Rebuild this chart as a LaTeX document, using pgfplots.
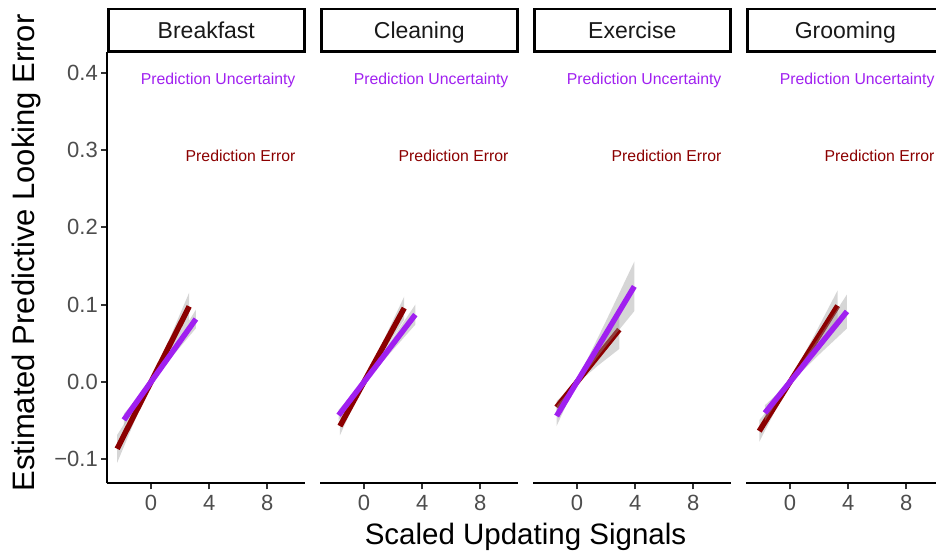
\documentclass[border=0pt]{standalone}
\usepackage{pgfplots}
\pgfplotsset{compat=1.18}
\usepackage{fontspec}
\setmainfont{Liberation Sans}
\definecolor{pu}{HTML}{A020F0}
\definecolor{dr}{HTML}{8B0000}
\definecolor{rib}{HTML}{999999}
\definecolor{tickc}{HTML}{333333}
\definecolor{tlab}{HTML}{4D4D4D}
\pgfplotsset{
 panel/.style={
  scale only axis, width=198bp, height=431.6bp,
  xmin=-3, xmax=10.61, ymin=-0.131, ymax=0.4273,
  axis x line*=bottom,
  xtick={0,4,8}, xticklabels={0,4,8},
  tick align=outside, major tick length=6bp,
  tick style={line width=2bp, color=tickc},
  axis line style={line width=2.2bp, black},
  ticklabel style={font=\fontsize{22bp}{26bp}\selectfont, text=tlab},
  xticklabel style={yshift=-2.5bp},
  clip=false,
  anchor=south west,
 },
 noy/.style={axis y line=none, ytick=\empty},
 rib/.style={fill=rib, fill opacity=0.4, draw=none, forget plot},
 redl/.style={dr, line width=5.5bp, forget plot},
 pul/.style={pu, line width=5.5bp, forget plot},
}
\newcommand{\strip}[1]{\node[draw=black, fill=white, line width=2.6bp, minimum width=196bp, minimum height=42.8bp, anchor=south, inner sep=0pt, text height=16.5bp, text depth=0pt, yshift=-1.3bp, font=\fontsize{23bp}{27bp}\selectfont, text=black!90] at (rel axis cs:0.5,1) {#1};}
\newcommand{\annot}{%
 \node[anchor=base east, inner sep=0pt, text=pu, font=\fontsize{15.8bp}{18bp}\selectfont] at (axis cs:9.945,0.385) {Prediction Uncertainty};
 \node[anchor=base east, inner sep=0pt, text=dr, font=\fontsize{15.8bp}{18bp}\selectfont] at (axis cs:9.945,0.2855) {Prediction Error};}
\begin{document}
\begin{tikzpicture}
\path[use as bounding box] (0,0) rectangle (936bp,556bp);
% Panel 1: Breakfast
\begin{axis}[panel, at={(107.3bp,72.7bp)}, axis y line*=left,
  ytick={-0.1,0,0.1,0.2,0.3,0.4}, yticklabels={−0.1,0.0,0.1,0.2,0.3,0.4}]
\addplot[rib] coordinates {(-2.32,-0.0683) (-1.16,-0.0342) (0,0.002) (1.32,0.0581) (2.63,0.1158) (2.63,0.0798) (1.32,0.0401) (0,-0.002) (-1.16,-0.0522) (-2.32,-0.1043)} -- cycle;
\addplot[redl] coordinates {(-2.32,-0.0863) (2.63,0.0978)};
\addplot[rib] coordinates {(-1.86,-0.041) (-0.93,-0.0205) (0,0.002) (1.55,0.0469) (3.09,0.0935) (3.09,0.0695) (1.55,0.0349) (0,-0.002) (-0.93,-0.0285) (-1.86,-0.057)} -- cycle;
\addplot[pul] coordinates {(-1.86,-0.049) (3.09,0.0815)};
\strip{Breakfast}
\annot
\end{axis}
% Panel 2: Cleaning
\begin{axis}[panel, noy, at={(320.3bp,72.7bp)}]
\addplot[rib] coordinates {(-1.65,-0.045) (-0.83,-0.0227) (0,0.002) (1.39,0.0556) (2.77,0.1107) (2.77,0.0807) (1.39,0.0406) (0,-0.002) (-0.83,-0.0347) (-1.65,-0.069)} -- cycle;
\addplot[redl] coordinates {(-1.65,-0.057) (2.77,0.0957)};
\addplot[rib] coordinates {(-1.74,-0.036) (-0.87,-0.018) (0,0.002) (1.77,0.0507) (3.53,0.1002) (3.53,0.0742) (1.77,0.0367) (0,-0.002) (-0.87,-0.025) (-1.74,-0.05)} -- cycle;
\addplot[pul] coordinates {(-1.74,-0.043) (3.53,0.0872)};
\strip{Cleaning}
\annot
\end{axis}
% Panel 3: Exercise
\begin{axis}[panel, noy, at={(533.3bp,72.7bp)}]
\addplot[rib] coordinates {(-1.40,-0.0246) (-0.70,-0.0123) (0,0.002) (1.46,0.0465) (2.91,0.0928) (2.91,0.0428) (1.46,0.0215) (0,-0.002) (-0.70,-0.0203) (-1.40,-0.0406)} -- cycle;
\addplot[redl] coordinates {(-1.40,-0.0326) (2.91,0.0678)};
\addplot[rib] coordinates {(-1.40,-0.031) (-0.70,-0.0155) (0,0.002) (1.97,0.0779) (3.94,0.1557) (3.94,0.0917) (1.97,0.0459) (0,-0.002) (-0.70,-0.0285) (-1.40,-0.057)} -- cycle;
\addplot[pul] coordinates {(-1.40,-0.044) (3.94,0.1237)};
\strip{Exercise}
\annot
\end{axis}
% Panel 4: Grooming
\begin{axis}[panel, noy, at={(746.3bp,72.7bp)}]
\addplot[rib] coordinates {(-2.11,-0.0495) (-1.06,-0.0249) (0,0.002) (1.64,0.0594) (3.28,0.1187) (3.28,0.0787) (1.64,0.0394) (0,-0.002) (-1.06,-0.0389) (-2.11,-0.0775)} -- cycle;
\addplot[redl] coordinates {(-2.11,-0.0635) (3.28,0.0987)};
\addplot[rib] coordinates {(-1.72,-0.030) (-0.86,-0.015) (0,0.002) (1.96,0.0567) (3.92,0.1133) (3.92,0.0693) (1.96,0.0347) (0,-0.002) (-0.86,-0.025) (-1.72,-0.050)} -- cycle;
\addplot[pul] coordinates {(-1.72,-0.040) (3.92,0.0913)};
\strip{Grooming}
\annot
\end{axis}
\node[font=\fontsize{29.5bp}{35bp}\selectfont] at (525.5bp,19bp) {Scaled Updating Signals};
\node[rotate=90, font=\fontsize{31bp}{37bp}\selectfont] at (26bp,303bp) {Estimated Predictive Looking Error};
\end{tikzpicture}
\end{document}
